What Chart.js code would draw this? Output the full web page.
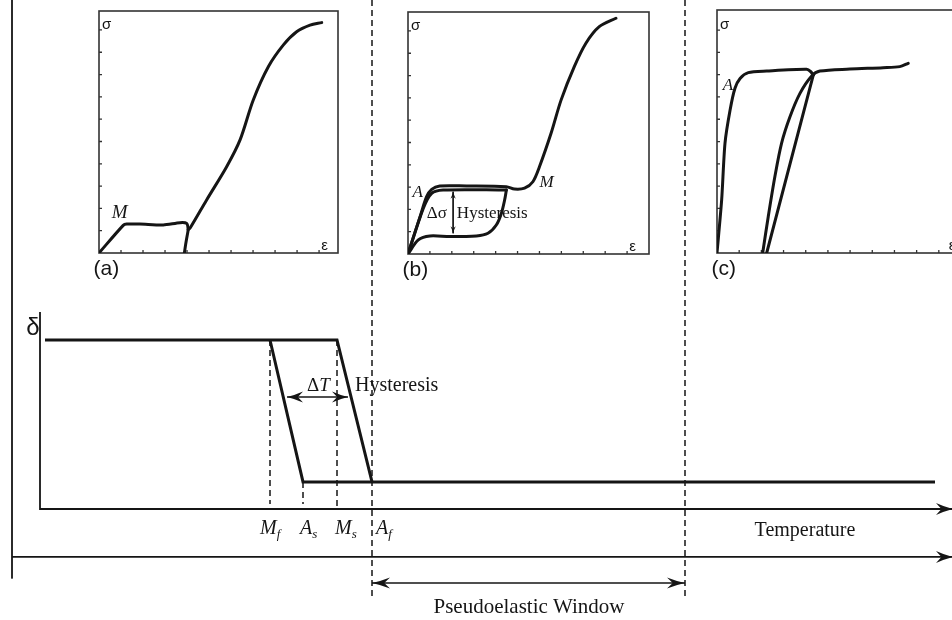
<!DOCTYPE html>
<html><head><meta charset="utf-8">
<script src="https://cdn.jsdelivr.net/npm/chart.js@4/dist/chart.umd.min.js"></script>
<style>
html,body{margin:0;padding:0;background:#fff;overflow:hidden;width:952px;height:620px;position:relative;}
canvas{position:absolute;}
</style></head><body>
<canvas id="main" width="952" height="620" style="left:0;top:0"></canvas>
<canvas id="insetA" width="265" height="290" style="left:85px;top:0"></canvas>
<canvas id="insetB" width="270" height="290" style="left:394px;top:0"></canvas>
<canvas id="insetC" width="270" height="290" style="left:700px;top:0"></canvas>
<script>
// ---------------- DATA ----------------
// Main diagram: transformation strain (delta) vs temperature (arbitrary units)
const transitionNames = ['Mf', 'As', 'Ms', 'Af'];
const transitionTemps = [23.0, 26.3, 29.7, 33.2];
const deltaHigh = 1.0;
const deltaLow = 0.16;
const curveStartT = 0.5;
const curveEndT = 89.5;
const windowEndT = 64.5;
const axisEndT = 91.3;
const hysteresisArrowT = [24.7, 30.8];

// Inset (a): T < Mf
const strainA_load = [0, 1.10, 1.26, 1.86, 2.92, 3.68, 3.98, 4.05, 4.01, 3.94, 3.88];
const stressA_load = [0, 1.24, 1.30, 1.30, 1.26, 1.36, 1.33, 1.05, 0.80, 0.40, 0];
const strainA_rise = [4.05, 4.14, 4.89, 5.80, 6.41, 7.01, 7.70, 8.38, 8.98, 9.59, 10.12];
const stressA_rise = [1.05, 1.12, 2.38, 3.87, 5.07, 6.86, 8.36, 9.33, 9.92, 10.22, 10.33];

// Inset (b): Af < T (pseudoelastic)
const strainB_load1 = [0, 0.55, 0.85, 1.08, 1.45, 2.67, 4.49, 4.86, 5.32, 5.70, 6.00, 6.53, 6.99, 7.59, 8.12, 8.73, 9.49];
const stressB_load1 = [0, 1.67, 2.57, 2.90, 3.05, 3.05, 3.02, 2.91, 2.95, 3.24, 3.91, 5.41, 6.91, 8.40, 9.45, 10.19, 10.57];
const strainB_load2 = [0, 0.70, 1.08, 1.60, 4.49];
const stressB_load2 = [0, 2.05, 2.72, 2.87, 2.87];
const strainB_unload = [4.49, 4.41, 4.26, 4.03, 3.65, 3.12, 1.91, 1.00, 0.47, 0];
const stressB_unload = [2.87, 2.42, 1.82, 1.30, 0.93, 0.81, 0.78, 0.81, 0.63, 0];
const deltaSigmaStrain = 2.06;
const deltaSigmaRange = [2.79, 0.93];

// Inset (c): T well above Af
const strainC_load = [0, 0.21, 0.36, 0.59, 0.81, 1.04, 1.41, 2.24, 4.04, 4.23, 4.34];
const stressC_load = [0, 2.38, 4.92, 6.41, 7.39, 7.83, 8.09, 8.16, 8.24, 8.13, 7.98];
const strainC_unload = [4.34, 2.24];
const stressC_unload = [7.98, 0];
const strainC_reload = [2.06, 2.31, 2.61, 2.91, 3.29, 3.74, 4.27, 4.64, 5.99, 7.49, 8.24, 8.62];
const stressC_reload = [0, 1.63, 3.43, 4.92, 6.11, 7.16, 7.94, 8.16, 8.25, 8.31, 8.36, 8.51];

const insetTicks = [1, 2, 3, 4, 5, 6, 7, 8, 9, 10];

// ---------------- HELPERS ----------------
const INK = '#151515';
const SERIF = '"Liberation Serif", "DejaVu Serif", serif';
const SANS = '"Liberation Sans", Arial, sans-serif';
const zip = (xs, ys) => xs.map((x, i) => ({x: x, y: ys[i]}));

function drawHead(ctx, tip, from, L, W) {
  const ang = Math.atan2(tip.y - from.y, tip.x - from.x);
  ctx.save();
  ctx.translate(tip.x, tip.y);
  ctx.rotate(ang);
  ctx.fillStyle = INK;
  ctx.beginPath();
  ctx.moveTo(0, 0);
  ctx.quadraticCurveTo(-L * 0.5, -W * 0.35, -L, -W);
  ctx.lineTo(-L * 0.68, 0);
  ctx.lineTo(-L, W);
  ctx.quadraticCurveTo(-L * 0.5, W * 0.35, 0, 0);
  ctx.closePath();
  ctx.fill();
  ctx.restore();
}

const arrowPlugin = {
  id: 'arrowHeads',
  afterDatasetsDraw(chart) {
    const ctx = chart.ctx;
    chart.data.datasets.forEach((ds, i) => {
      if (!ds.arrows) return;
      const pts = chart.getDatasetMeta(i).data;
      const n = pts.length;
      const L = ds.headL || 14, W = ds.headW || 5.5;
      if (ds.arrows === 'end' || ds.arrows === 'both') drawHead(ctx, pts[n - 1], pts[n - 2], L, W);
      if (ds.arrows === 'start' || ds.arrows === 'both') drawHead(ctx, pts[0], pts[1], L, W);
    });
  }
};

function drawLabel(ctx, chart, lab) {
  const px = chart.scales.x.getPixelForValue(lab.x);
  const py = chart.scales.y.getPixelForValue(lab.y);
  ctx.save();
  ctx.fillStyle = INK;
  ctx.textBaseline = 'alphabetic';
  let total = 0;
  const widths = lab.parts.map(p => { ctx.font = p[1]; const w = ctx.measureText(p[0]).width; total += w; return w; });
  let x = lab.align === 'center' ? px - total / 2 : px;
  lab.parts.forEach((p, k) => {
    ctx.font = p[1];
    ctx.fillText(p[0], x, py + (p[2] || 0));
    x += widths[k];
  });
  ctx.restore();
}

const labelPlugin = {
  id: 'labels',
  afterDatasetsDraw(chart, args, opts) {
    (opts.items || []).forEach(lab => drawLabel(chart.ctx, chart, lab));
  }
};

const framePlugin = {
  id: 'frame',
  beforeDatasetsDraw(chart, args, opts) {
    if (!opts.on) return;
    const ctx = chart.ctx, a = chart.chartArea;
    const sx = chart.scales.x, sy = chart.scales.y;
    ctx.save();
    ctx.strokeStyle = '#333';
    ctx.lineWidth = 1.6;
    ctx.strokeRect(a.left, a.top, a.right - a.left, a.bottom - a.top);
    ctx.lineWidth = 1.3;
    ctx.beginPath();
    insetTicks.forEach(t => {
      if (t < sx.max) { const x = sx.getPixelForValue(t); ctx.moveTo(x, a.bottom); ctx.lineTo(x, a.bottom - 3); }
      if (t < sy.max) { const y = sy.getPixelForValue(t); ctx.moveTo(a.left, y); ctx.lineTo(a.left + 3, y); }
    });
    ctx.stroke();
    ctx.restore();
  }
};

Chart.register(arrowPlugin, labelPlugin, framePlugin);

function lineDs(points, width, extra) {
  return Object.assign({
    data: points, showLine: true, borderColor: INK, backgroundColor: INK,
    borderWidth: width, pointRadius: 0, pointHoverRadius: 0, tension: 0,
    borderCapStyle: 'butt', borderJoinStyle: 'round', fill: false
  }, extra || {});
}

function baseOptions(xmin, xmax, ymin, ymax, padding, labels, frame) {
  return {
    responsive: false, animation: false, devicePixelRatio: 1,
    layout: {padding: padding},
    scales: {
      x: {type: 'linear', min: xmin, max: xmax, display: false},
      y: {type: 'linear', min: ymin, max: ymax, display: false}
    },
    plugins: {
      legend: {display: false}, tooltip: {enabled: false},
      labels: {items: labels}, frame: {on: frame}
    },
    elements: {line: {capBezierPoints: true}}
  };
}

// ---------------- MAIN DIAGRAM ----------------
const [Mf, As, Ms, Af] = transitionTemps;
const topY = 3.012, outerX = -2.8, outerArrowY = -0.284, windowArrowY = -0.438, dashBottom = -0.527;
const dash = {borderDash: [6, 4]};

const mainDatasets = [
  lineDs([{x: outerX, y: topY}, {x: outerX, y: -0.408}], 1.8),
  lineDs([{x: outerX, y: outerArrowY}, {x: axisEndT, y: outerArrowY}], 1.8, {arrows: 'end', headL: 17, headW: 6}),
  lineDs([{x: 0, y: 1.166}, {x: 0, y: 0}, {x: axisEndT, y: 0}], 1.8, {arrows: 'end', headL: 17, headW: 6, borderJoinStyle: 'miter'}),
  lineDs([{x: curveStartT, y: deltaHigh}, {x: Ms, y: deltaHigh}, {x: Af, y: deltaLow}], 3, {borderJoinStyle: 'miter'}),
  lineDs([{x: Mf, y: deltaHigh}, {x: As, y: deltaLow}, {x: curveEndT, y: deltaLow}], 3, {borderJoinStyle: 'miter'}),
  lineDs([{x: Mf, y: deltaHigh}, {x: Mf, y: 0.03}], 1.5, dash),
  lineDs([{x: As, y: deltaLow}, {x: As, y: 0.03}], 1.5, dash),
  lineDs([{x: Ms, y: deltaHigh}, {x: Ms, y: 0.0}], 1.5, dash),
  lineDs([{x: Af, y: topY}, {x: Af, y: dashBottom}], 1.5, dash),
  lineDs([{x: windowEndT, y: topY}, {x: windowEndT, y: dashBottom}], 1.5, dash),
  lineDs([{x: hysteresisArrowT[0], y: 0.663}, {x: hysteresisArrowT[1], y: 0.663}], 1.5, {arrows: 'both', headL: 16, headW: 5.5}),
  lineDs([{x: Af, y: windowArrowY}, {x: windowEndT, y: windowArrowY}], 1.5, {arrows: 'both', headL: 18, headW: 5.5})
];

const it20 = 'italic 20px ' + SERIF, it13 = 'italic 13px ' + SERIF;
const subLabelY = -0.15;
const subOffsets = [-1.0, -0.3, -0.2, 0.4];
const mainLabels = transitionNames.map((nm, i) => ({
  x: transitionTemps[i] + subOffsets[i], y: subLabelY, align: 'left',
  parts: [[nm[0], it20], [nm[1], it13, 4]]
}));
mainLabels.push(
  {x: -0.7, y: 1.03, align: 'center', parts: [['δ', '24px ' + SANS]]},
  {x: 26.7, y: 0.7, align: 'left', parts: [['Δ', '19px ' + SERIF], ['T', 'italic 19px ' + SERIF]]},
  {x: 31.5, y: 0.7, align: 'left', parts: [['Hysteresis', '20px ' + SERIF]]},
  {x: 76.5, y: -0.16, align: 'center', parts: [['Temperature', '20px ' + SERIF]]},
  {x: 48.9, y: -0.615, align: 'center', parts: [['Pseudoelastic Window', '21px ' + SERIF]]}
);

new Chart(document.getElementById('main'), {
  type: 'scatter',
  data: {datasets: mainDatasets},
  options: baseOptions(-4, 91.2, -0.657, 3.012, 0, mainLabels, false)
});

// ---------------- INSETS ----------------
const sigmaFont = '15px ' + SANS;
function insetLabels(tag, extra, epsX) {
  return [
    {x: 0.14, y: 10.05, align: 'left', parts: [['σ', sigmaFont]]},
    {x: epsX, y: 0.12, align: 'left', parts: [['ε', sigmaFont]]},
    {x: -0.25, y: -1.0, align: 'left', parts: [[tag, '21px ' + SANS]]}
  ].concat(extra);
}
const curve = (pts, t) => lineDs(pts, 3, {tension: t, borderJoinStyle: 'round', borderCapStyle: 'round'});

new Chart(document.getElementById('insetA'), {
  type: 'scatter',
  data: {datasets: [
    curve(zip(strainA_load, stressA_load), 0.25),
    curve(zip(strainA_rise, stressA_rise), 0.3)
  ]},
  options: baseOptions(0, 10.86, 0, 10.85, {left: 14, top: 11, right: 12, bottom: 37},
    insetLabels('(a)', [{x: 0.58, y: 1.55, align: 'left', parts: [['M', 'italic 19px ' + SERIF]]}], 10.1), true)
});

new Chart(document.getElementById('insetB'), {
  type: 'scatter',
  data: {datasets: [
    curve(zip(strainB_load1, stressB_load1), 0.3),
    curve(zip(strainB_load2, stressB_load2), 0.3),
    curve(zip(strainB_unload, stressB_unload), 0.3),
    lineDs([{x: deltaSigmaStrain, y: deltaSigmaRange[0]}, {x: deltaSigmaStrain, y: deltaSigmaRange[1]}], 1, {arrows: 'both', headL: 7, headW: 2.6})
  ]},
  options: baseOptions(0, 11, 0, 10.85, {left: 14, top: 12, right: 15, bottom: 36},
    insetLabels('(b)', [
      {x: 0.2, y: 2.55, align: 'left', parts: [['A', 'italic 17px ' + SERIF]]},
      {x: 6.0, y: 3.0, align: 'left', parts: [['M', 'italic 17px ' + SERIF]]},
      {x: 0.86, y: 1.6, align: 'left', parts: [['Δσ', '17px ' + SERIF]]},
      {x: 2.23, y: 1.6, align: 'left', parts: [['Hysteresis', '17px ' + SERIF]]}
    ], 10.1), true)
});

new Chart(document.getElementById('insetC'), {
  type: 'scatter',
  data: {datasets: [
    curve(zip(strainC_load, stressC_load), 0.25),
    curve(zip(strainC_unload, stressC_unload), 0),
    curve(zip(strainC_reload, stressC_reload), 0.3)
  ]},
  options: baseOptions(0, 11, 0, 10.9, {left: 17, top: 10, right: 9, bottom: 37},
    insetLabels('(c)', [{x: 0.26, y: 7.3, align: 'left', parts: [['A', 'italic 17px ' + SERIF]]}], 10.45), true)
});
</script>
</body></html>
